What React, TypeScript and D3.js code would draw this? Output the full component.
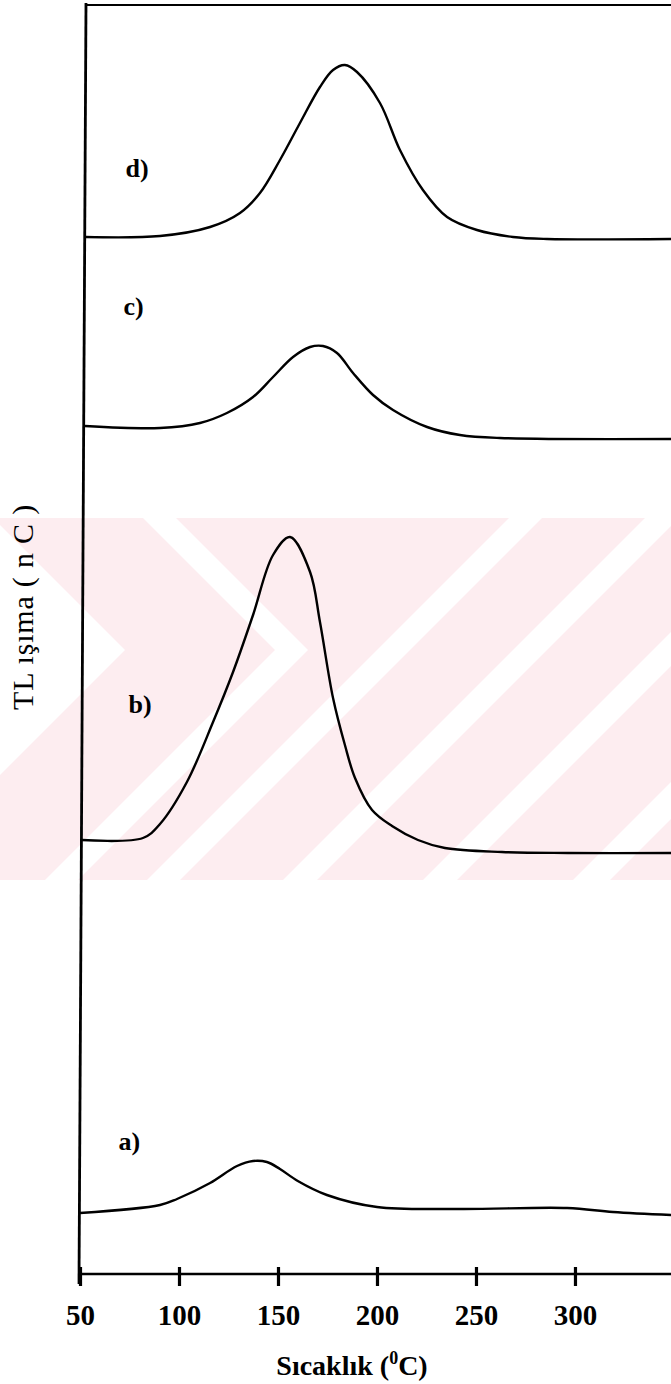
import React, { useRef, useEffect } from "react"
import * as d3 from "d3"

// temperatures (°C) and TL glow (arbitrary nC units, curves stacked with offsets)
const tempA = [50, 90.4, 99, 115.7, 129.3, 137.4, 144.4, 151, 160, 174.7, 200, 241.9, 296, 319.2, 348.5]
const tlA = [6.2, 7.0, 7.6, 9.2, 10.9, 11.4, 11.3, 10.6, 9.4, 8.0, 6.8, 6.6, 6.7, 6.3, 6.0]

const tempB = [51, 81.8, 90.4, 104, 117.2, 127.3, 137.4, 147.5, 156.1, 166.2, 171.2, 177.8, 183.8, 188.9, 197.5, 207.6, 220.7, 234.3, 263.1, 296.5, 348.5]
const tlB = [43.5, 43.7, 45.1, 49.3, 55.3, 60.3, 66.0, 72.0, 73.8, 70.3, 65.3, 57.7, 53.0, 49.7, 46.5, 44.9, 43.5, 42.7, 42.3, 42.2, 42.2]

const tempC = [52.5, 90.4, 110.6, 124.2, 137.4, 147.5, 157.6, 166.2, 172.7, 179.8, 187.9, 198, 208.1, 225.3, 241.9, 262.1, 348.5]
const tlC = [84.9, 84.7, 85.2, 86.2, 87.8, 89.8, 91.8, 92.8, 92.9, 92.2, 90.2, 88.0, 86.5, 84.8, 84.0, 83.7, 83.6]

const tempD = [53, 90.4, 115.7, 130.8, 140.9, 151, 161.1, 171.2, 177.8, 183.8, 189.9, 201.5, 211.6, 223.2, 235.4, 250.5, 268.7, 285.9, 348.5]
const tlD = [103.8, 103.9, 104.8, 106.2, 108.2, 111.5, 115.2, 118.8, 120.5, 121.0, 120.3, 117.2, 112.5, 108.5, 105.8, 104.5, 103.8, 103.6, 103.6]

const curveNames = ["a)", "b)", "c)", "d)"]
// label anchor per curve: [temperature, tl]
const labelT = [69.5, 74.5, 72, 73]
const labelV = [12.5, 56.2, 96, 109.8]

const xTicks = [50, 100, 150, 200, 250, 300]

const W = 671, H = 1384
const FONT = "'Liberation Serif', 'Times New Roman', serif"

export default function App() {
  const svgRef = useRef<SVGSVGElement>(null)

  useEffect(() => {
    const svg = d3.select(svgRef.current)
    svg.selectAll("*").remove()

    const axisY = 1274
    const x = d3.scaleLinear().domain([50, 348.5]).range([80, 671])
    const y = d3.scaleLinear().domain([0, 127]).range([1275, 5])

    // watermark (faint pink stripes of the scanned page)
    const clip = svg.append("defs").append("clipPath").attr("id", "wm")
    clip.append("rect").attr("x", 0).attr("y", 518).attr("width", W).attr("height", 362)
    const wm = svg.append("g").attr("clip-path", "url(#wm)")
    wm.append("rect").attr("x", 0).attr("y", 518).attr("width", W).attr("height", 362).attr("fill", "#fdedf0")
    const white = "#ffffff"
    // chevron white band
    wm.append("polygon").attr("fill", white)
      .attr("points", "143,518 176,518 308,650 78,880 45,880 275,650")
    // white core on the left
    wm.append("polygon").attr("fill", white)
      .attr("points", "-10,515 125,650 -10,785")
    // diagonal stripes "/"
    const stripes = [[1027, 1060], [1163, 1197], [1303, 1337], [1453, 1490]]
    stripes.forEach(([u0, u1]) => {
      wm.append("polygon").attr("fill", white)
        .attr("points", `${u0 - 900},900 ${u1 - 900},900 ${u1 - 500},500 ${u0 - 500},500`)
    })

    // frame
    svg.append("line").attr("x1", 86).attr("y1", 5).attr("x2", W).attr("y2", 5)
      .attr("stroke", "#000").attr("stroke-width", 2.2)
    svg.append("line").attr("x1", 86).attr("y1", 3).attr("x2", 79).attr("y2", 1284)
      .attr("stroke", "#000").attr("stroke-width", 2.8)
    svg.append("line").attr("x1", 79).attr("y1", axisY).attr("x2", W).attr("y2", axisY)
      .attr("stroke", "#000").attr("stroke-width", 2.5)

    const ax = svg.append("g").attr("transform", `translate(0,${axisY})`)
      .call(d3.axisBottom(x).tickValues(xTicks).tickSize(12).tickSizeOuter(0).tickFormat(d3.format("d")))
    ax.select(".domain").remove()
    ax.selectAll(".tick line").attr("y1", -7).attr("stroke", "#000").attr("stroke-width", 3.2)
    ax.selectAll(".tick text")
      .attr("y", 51).attr("dy", 0)
      .attr("fill", "#000")
      .attr("font-family", FONT)
      .attr("font-weight", "bold")
      .attr("font-size", 29)

    // x title
    const xt = svg.append("text")
      .attr("x", 352).attr("y", 1375)
      .attr("text-anchor", "middle")
      .attr("font-family", FONT).attr("font-weight", "bold").attr("font-size", 28)
    xt.append("tspan").text("Sıcaklık (")
    xt.append("tspan").attr("dy", -11).attr("font-size", 18).text("0")
    xt.append("tspan").attr("dy", 11).text("C)")

    // y title
    svg.append("text")
      .attr("transform", "translate(33,607) rotate(-90)")
      .attr("text-anchor", "middle")
      .attr("font-family", FONT).attr("font-size", 30)
      .attr("letter-spacing", 0.8)
      .text("TL ışıma ( n C )")

    const line = d3.line<[number, number]>()
      .x(d => x(d[0]))
      .y(d => y(d[1]))
      .curve(d3.curveCatmullRom.alpha(0.5))

    const series = [
      d3.zip(tempA, tlA),
      d3.zip(tempB, tlB),
      d3.zip(tempC, tlC),
      d3.zip(tempD, tlD),
    ] as [number, number][][]

    svg.append("g").selectAll("path")
      .data(series)
      .enter()
      .append("path")
      .attr("d", d => line(d))
      .attr("fill", "none")
      .attr("stroke", "#000")
      .attr("stroke-width", 2.4)
      .attr("stroke-linejoin", "round")

    svg.append("g").selectAll("text")
      .data(curveNames)
      .enter()
      .append("text")
      .attr("x", (d, i) => x(labelT[i]))
      .attr("y", (d, i) => y(labelV[i]))
      .attr("font-family", FONT).attr("font-weight", "bold").attr("font-size", 26)
      .text(d => d)
  }, [])

  return (
    <svg ref={svgRef} width={W} height={H}
      style={{ position: "absolute", left: 0, top: 0, background: "#fff", display: "block" }} />
  )
}
